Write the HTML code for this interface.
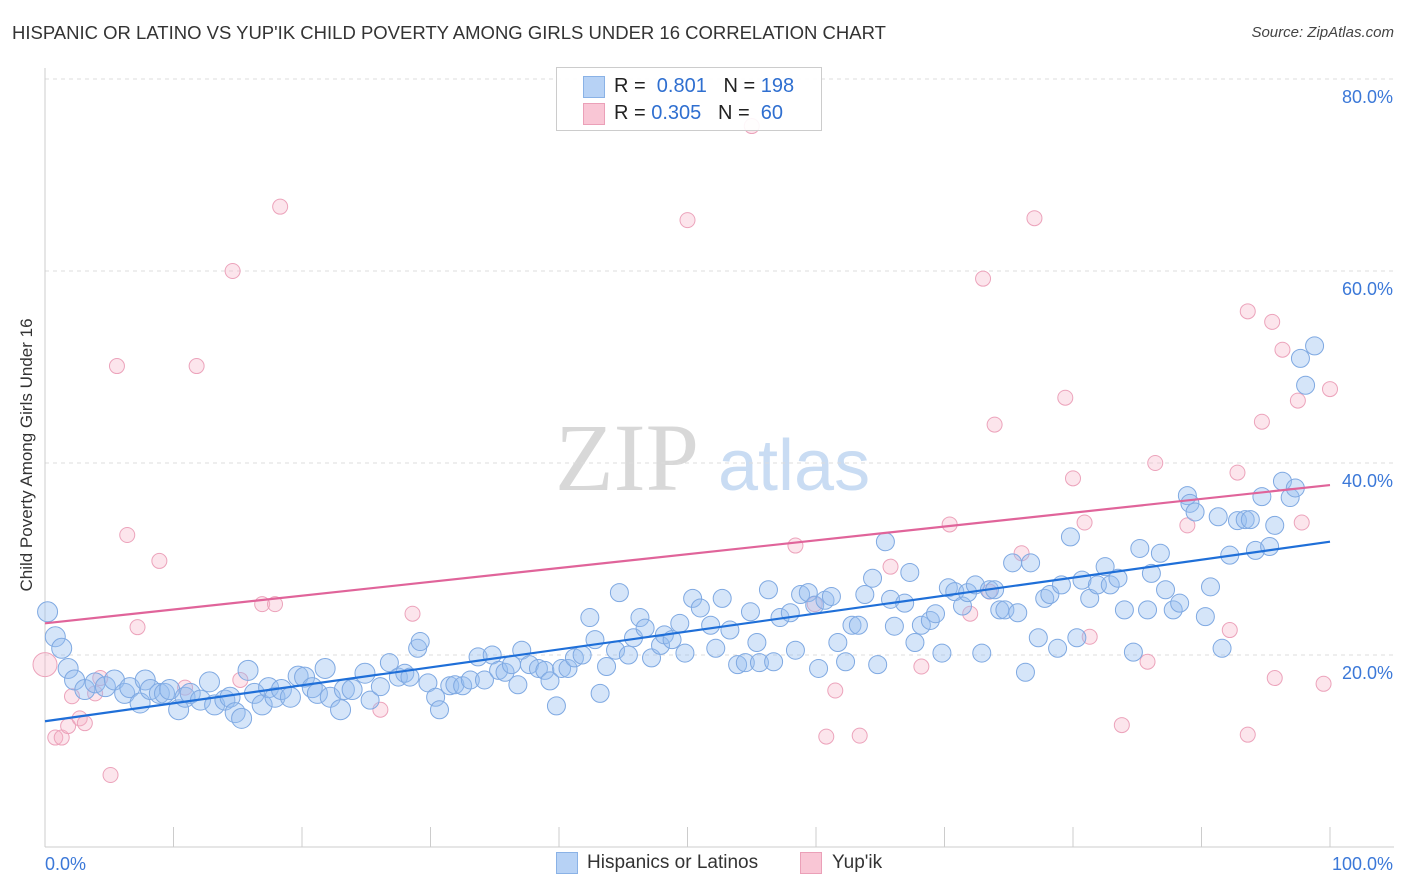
<!DOCTYPE html>
<html><head><meta charset="utf-8"><style>
body{margin:0;background:#fff;font-family:"Liberation Sans",sans-serif;}
#wrap{position:relative;width:1406px;height:892px;overflow:hidden;}
.t{position:absolute;white-space:nowrap;}
</style></head><body>
<div id="wrap">
<div class="t" style="left:12px;top:22px;font-size:18.5px;color:#333;">HISPANIC OR LATINO VS YUP'IK CHILD POVERTY AMONG GIRLS UNDER 16 CORRELATION CHART</div>
<div class="t" style="right:12px;top:24px;font-size:15px;color:#444;font-style:italic;">Source: ZipAtlas.com</div>
<div class="t" style="left:27px;top:455px;font-size:17px;color:#333;transform:translate(-50%,-50%) rotate(-90deg);">Child Poverty Among Girls Under 16</div>
<svg id="svg" width="1406" height="892" style="position:absolute;left:0;top:0"></svg>
<div class="t" style="left:556px;top:67px;width:264px;height:62px;border:1px solid #ccc;background:rgba(255,255,255,0.9);">
 <div style="position:absolute;left:26px;top:8px;width:20px;height:20px;background:#b7d2f5;border:1px solid #8ab2e6;"></div>
 <div class="t" style="left:57px;top:7px;font-size:20px;color:#222;">R = <span style="color:#2f6fd0">&nbsp;0.801</span>&nbsp;&nbsp;&nbsp;N = <span style="color:#2f6fd0">198</span></div>
 <div style="position:absolute;left:26px;top:35px;width:20px;height:20px;background:#f9c6d5;border:1px solid #eba0b8;"></div>
 <div class="t" style="left:57px;top:34px;font-size:20px;color:#222;">R = <span style="color:#2f6fd0">0.305</span>&nbsp;&nbsp;&nbsp;N = <span style="color:#2f6fd0">&nbsp;60</span></div>
</div>
<div class="t" style="left:556px;top:852px;width:20px;height:20px;background:#b7d2f5;border:1px solid #8ab2e6;"></div>
<div class="t" style="left:587px;top:852px;font-size:19px;color:#333;">Hispanics or Latinos</div>
<div class="t" style="left:800px;top:852px;width:20px;height:20px;background:#f9c6d5;border:1px solid #eba0b8;"></div>
<div class="t" style="left:832px;top:852px;font-size:19px;color:#333;">Yup'ik</div>
</div>
<script>
const yTicks=[20,40,60,80];
const yTickLabels=["20.0%","40.0%","60.0%","80.0%"];
const xEndLabels=["0.0%","100.0%"];
const blueX=[0.2,0.8,1.3,1.8,2.3,3.1,3.9,4.7,5.4,6.2,6.6,7.4,7.8,8.2,8.9,9.3,9.7,10.4,10.9,11.3,12.1,12.8,13.2,14.0,14.4,14.8,15.3,15.8,16.3,16.9,17.4,17.9,18.4,19.1,19.7,20.2,20.8,21.2,21.8,22.2,23.0,23.3,23.9,24.9,25.3,26.1,26.8,27.5,28.0,28.4,29.0,29.2,29.8,30.4,30.7,31.5,31.9,32.5,33.1,33.7,34.2,34.8,35.3,35.8,36.3,36.8,37.1,37.7,38.4,38.9,39.3,39.8,40.2,40.7,41.2,41.8,42.4,42.8,43.2,43.7,44.4,44.7,45.4,45.8,46.3,46.7,47.2,47.9,48.2,48.8,49.4,49.8,50.4,51.0,51.8,52.2,52.7,53.3,53.9,54.5,54.9,55.4,55.6,56.3,56.7,57.2,58.0,58.4,58.8,59.4,59.9,60.2,60.7,61.2,61.7,62.3,62.8,63.3,63.8,64.4,64.8,65.4,65.8,66.1,66.9,67.3,67.7,68.2,68.9,69.3,69.8,70.3,70.8,71.4,71.8,72.4,72.9,73.5,73.9,74.3,74.7,75.3,75.7,76.3,76.7,77.3,77.8,78.2,78.8,79.1,79.8,80.3,80.7,81.3,81.9,82.5,82.9,83.5,84.0,84.7,85.2,85.8,86.1,86.8,87.2,87.8,88.3,88.9,89.1,89.5,90.3,90.7,91.3,91.6,92.2,92.8,93.4,93.8,94.2,94.7,95.3,95.7,96.3,96.9,97.3,97.7,98.1,98.8];
const blueY=[24.5,21.9,20.7,18.6,17.4,16.4,17.1,16.7,17.4,16.0,16.6,15.0,17.4,16.4,16.0,16.0,16.4,14.3,15.6,16.0,15.3,17.2,14.8,15.3,15.6,14.0,13.4,18.4,16.0,14.8,16.6,15.6,16.4,15.6,17.8,17.7,16.6,16.0,18.6,15.6,14.3,16.4,16.4,18.1,15.3,16.7,19.2,17.7,18.1,17.7,20.7,21.4,17.1,15.6,14.3,16.8,16.9,16.8,17.4,19.8,17.4,20.0,18.4,18.2,19.0,16.9,20.5,19.0,18.6,18.4,17.3,14.7,18.6,18.6,19.7,20.0,23.9,21.6,16.0,18.8,20.5,26.5,20.0,21.8,23.9,22.8,19.7,21.0,22.1,21.6,23.3,20.2,25.9,24.9,23.1,20.7,25.9,22.6,19.0,19.2,24.5,21.3,19.2,26.8,19.3,23.9,24.4,20.5,26.3,26.5,25.2,18.6,25.7,26.1,21.3,19.3,23.1,23.1,26.3,28.0,19.0,31.8,25.8,23.0,25.4,28.6,21.3,23.1,23.6,24.3,20.2,27.0,26.6,25.1,26.5,27.3,20.2,26.8,26.8,24.7,24.7,29.6,24.4,18.2,29.6,21.8,25.9,26.3,20.7,27.3,32.3,21.8,27.8,25.9,27.3,29.2,27.3,28.0,24.7,20.3,31.1,24.7,28.5,30.6,26.8,24.7,25.4,36.6,35.8,34.9,24.0,27.1,34.4,20.7,30.4,34.0,34.1,34.1,30.9,36.5,31.3,33.5,38.1,36.4,37.4,50.9,48.1,52.2];
const pinkX=[0,0.8,1.3,1.8,2.1,2.7,3.1,3.9,4.3,5.1,5.6,6.4,7.2,8.9,10.9,11.8,14.6,15.2,16.9,17.9,18.3,26.1,28.6,50.0,55.0,58.4,59.9,61.5,60.8,63.4,65.8,68.2,70.4,72.0,73.0,73.5,73.9,76.0,77.0,79.4,80.0,80.9,81.3,83.8,85.8,86.4,88.9,92.2,92.8,93.6,93.6,94.7,95.5,95.7,96.3,97.5,97.8,99.5,100];
const pinkY=[19.0,11.4,11.4,12.6,15.7,13.4,12.9,16.0,17.6,7.5,50.1,32.5,22.9,29.8,16.6,50.1,60.0,17.4,25.3,25.3,66.7,14.3,24.3,65.3,75.1,31.4,25.3,16.3,11.5,11.6,29.2,18.8,33.6,24.3,59.2,26.6,44.0,30.6,65.5,46.8,38.4,33.8,21.9,12.7,19.3,40.0,33.5,22.6,39.0,11.7,55.8,44.3,54.7,17.6,51.8,46.5,33.8,17.0,47.7];
const blueTrend=[13.1,31.8];
const pinkTrend=[23.3,37.7];

const X0=45,X1=1330,Y0=847,YS=9.6;
const sx=v=>X0+(X1-X0)*v/100;
const sy=v=>Y0-v*YS;
const svg=document.getElementById('svg');
const NS='http://www.w3.org/2000/svg';
function mk(tag,attrs,parent){const e=document.createElementNS(NS,tag);for(const k in attrs)e.setAttribute(k,attrs[k]);(parent||svg).appendChild(e);return e;}
let wm=mk('text',{x:555,y:490,'font-size':96,fill:'#d8d8d8','font-family':'Liberation Serif, serif'});
wm.textContent='ZIP';


let wm2=mk('text',{x:718,y:490,'font-size':72,fill:'#c9dcf3','font-family':'Liberation Sans, sans-serif'});
wm2.textContent='atlas';


yTicks.forEach((v,i)=>{
 let g=mk('line',{x1:X0,x2:1394,y1:sy(v),y2:sy(v),stroke:'#ddd','stroke-dasharray':'4,4'});
 
 
 let t=mk('text',{x:1393,y:sy(v)+24,'text-anchor':'end','font-size':18,fill:'#3b78d8','font-family':'Liberation Sans, sans-serif'});
 t.textContent=yTickLabels[i];
 
 
});
let ya=mk('line',{x1:X0,x2:X0,y1:68,y2:Y0,stroke:'#ccc'});


let xa=mk('line',{x1:X0,x2:1394,y1:Y0,y2:Y0,stroke:'#ccc'});


for(let i=0;i<=10;i++){
 let tk=mk('line',{x1:sx(i*10),x2:sx(i*10),y1:Y0,y2:Y0-20,stroke:'#ccc'});
 
 
}
let xl0=mk('text',{x:45,y:870,'font-size':18,fill:'#3b78d8','font-family':'Liberation Sans, sans-serif'});
xl0.textContent=xEndLabels[0];


let xl1=mk('text',{x:1393,y:870,'text-anchor':'end','font-size':18,fill:'#3b78d8','font-family':'Liberation Sans, sans-serif'});
xl1.textContent=xEndLabels[1];


pinkX.forEach((x,i)=>{
 let c=mk('circle',{cx:sx(x),cy:sy(pinkY[i]),r:i==0?12:7.5,fill:'rgba(246,180,200,0.35)',stroke:'#eca3bb','stroke-width':1});
 
 
});
blueX.forEach((x,i)=>{
 let r=(x<25)?10:9;
 let c=mk('circle',{cx:sx(x),cy:sy(blueY[i]),r:r,fill:'rgba(150,190,240,0.4)',stroke:'#7fa9e2','stroke-width':1});
 
 
});
let bl=mk('line',{x1:sx(0),x2:sx(100),y1:sy(blueTrend[0]),y2:sy(blueTrend[1]),stroke:'#1f6fd8','stroke-width':2.2});


let pl=mk('line',{x1:sx(0),x2:sx(100),y1:sy(pinkTrend[0]),y2:sy(pinkTrend[1]),stroke:'#e0649a','stroke-width':2.2});


</script>
</body></html>
